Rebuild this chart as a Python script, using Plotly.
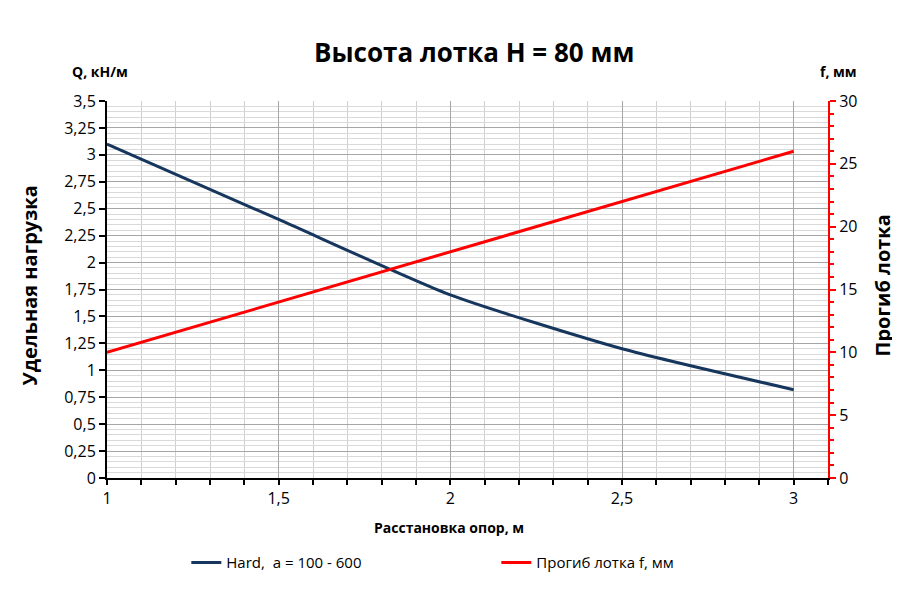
import plotly.graph_objects as go

# расстановка опор, м
spans = [1.0, 1.5, 2.0, 2.5, 3.0]
# удельная нагрузка Q, кН/м
load_hard = [3.1, 2.4, 1.7, 1.2, 0.82]
# прогиб лотка f, мм
deflection = [10, 14, 18, 22, 26]

FONT = "Open Sans"
BLUE = "#17365D"
RED = "#FF0000"

fig = go.Figure()
fig.add_scatter(
    x=spans,
    y=load_hard,
    mode="lines",
    line=dict(color=BLUE, width=3, shape="spline", smoothing=0.6),
    name="Hard,  a = 100 - 600",
)
fig.add_scatter(
    x=spans,
    y=deflection,
    mode="lines",
    yaxis="y2",
    line=dict(color=RED, width=3),
    name="Прогиб лотка f, мм",
)

# the page body adds 8px around the figure, margins account for it
fig.update_layout(
    width=900,
    height=604,
    margin=dict(l=99, r=80, t=93, b=134),
    plot_bgcolor="white",
    paper_bgcolor="white",
    separators=", ",
    font=dict(family=FONT, size=16, color="black"),
    title=dict(
        text="<b>Высота лотка H = 80 мм</b>",
        x=0.518,
        xanchor="center",
        y=0.926,
        yanchor="middle",
        font=dict(size=26),
    ),
    xaxis=dict(
        range=[1, 3.1],
        tick0=1,
        dtick=0.5,
        ticks="outside",
        ticklen=5,
        tickwidth=2,
        tickcolor="black",
        ticklabelstandoff=0,
        showline=True,
        linecolor="black",
        linewidth=2,
        showgrid=True,
        gridcolor="#a6a6a6",
        gridwidth=1,
        zeroline=False,
        automargin=False,
        minor=dict(
            tick0=1,
            dtick=0.1,
            ticks="outside",
            ticklen=5,
            tickwidth=2,
            tickcolor="black",
            showgrid=True,
            gridcolor="#d0d0d0",
        ),
    ),
    yaxis=dict(
        range=[0, 3.5],
        dtick=0.25,
        ticks="outside",
        ticklen=6,
        tickwidth=2,
        tickcolor="black",
        showline=True,
        linecolor="black",
        linewidth=2,
        showgrid=True,
        gridcolor="#a6a6a6",
        zeroline=False,
        automargin=False,
        minor=dict(dtick=0.05, showgrid=True, gridcolor="#d9d9d9"),
    ),
    yaxis2=dict(
        overlaying="y",
        side="right",
        range=[0, 30],
        dtick=5,
        ticks="outside",
        ticklen=6,
        tickwidth=2,
        tickcolor=RED,
        showline=True,
        linecolor=RED,
        linewidth=2,
        showgrid=False,
        zeroline=False,
        automargin=False,
        minor=dict(dtick=1, ticks="outside", ticklen=4, tickwidth=2, tickcolor=RED),
    ),
    legend=dict(
        orientation="h",
        x=0.11,
        xanchor="left",
        y=-0.225,
        yanchor="middle",
        entrywidth=265,
        font=dict(size=15),
        itemwidth=30,
    ),
)

labels = [
    ("<b>Q, кН/м</b>", -0.01, 1.077, 0, 14),
    ("<b>f, мм</b>", 1.014, 1.077, 0, 14),
    ("<b>Расстановка опор, м</b>", 0.475, -0.13, 0, 14),
    ("<b>Удельная нагрузка</b>", -0.107, 0.51, -90, 20),
    ("<b>Прогиб лотка</b>", 1.076, 0.51, -90, 20),
]
for text, x, y, angle, size in labels:
    fig.add_annotation(
        text=text, xref="paper", yref="paper",
        x=x, y=y, xanchor="center", yanchor="middle",
        textangle=angle, showarrow=False, font=dict(size=size),
    )

fig.write_html("out.html")
